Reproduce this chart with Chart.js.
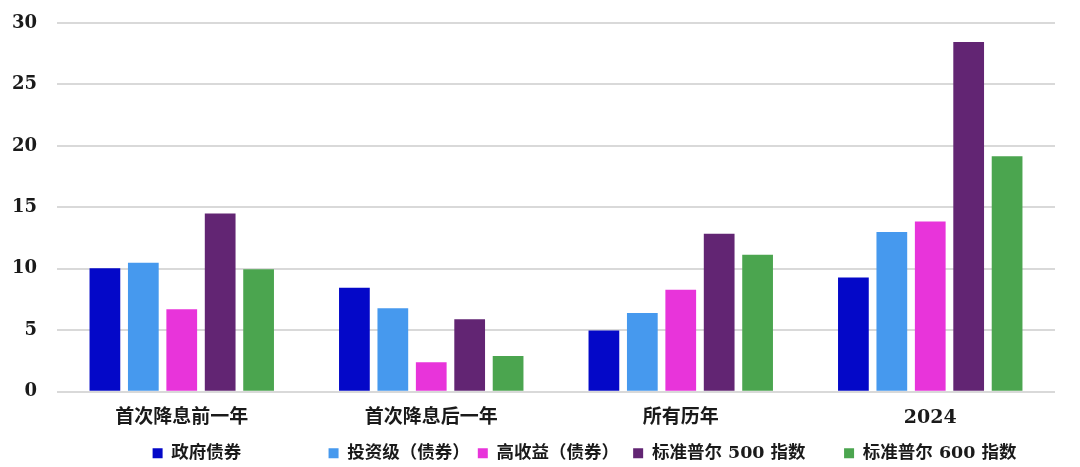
<!DOCTYPE html>
<html>
<head>
<meta charset="utf-8">
<script src="https://cdn.jsdelivr.net/npm/chart.js@4.4.1/dist/chart.umd.min.js"></script>
<style>
  html, body { margin: 0; padding: 0; background: #fff; }
  #wrap { width: 1080px; height: 467px; }
</style>
</head>
<body>
<div id="wrap"><canvas id="chart"></canvas></div>
<script>
const categories = ['首次降息前一年', '首次降息后一年', '所有历年', '2024'];
const seriesNames = ['政府债券', '投资级（债券）', '高收益（债券）', '标准普尔 500 指数', '标准普尔 600 指数'];
const govBonds = [10.05, 8.45, 4.97, 9.3];
const invGrade = [10.5, 6.8, 6.4, 13.0];
const highYield = [6.7, 2.4, 8.3, 13.85];
const sp500 = [14.5, 5.9, 12.85, 28.45];
const sp600 = [9.97, 2.9, 11.15, 19.15];
const yTicks = [0, 5, 10, 15, 20, 25, 30];

const colors = ['#0408C8', '#4699EE', '#E834DA', '#622573', '#4BA54F'];
const values = [govBonds, invGrade, highYield, sp500, sp600];
// extra spacing after each legend entry (the original legend is not evenly spaced)
const legendGaps = [13, 0, 1, 5, 5];

Chart.defaults.color = '#1a1a1a';
Chart.defaults.font.family = '"DejaVu Serif", "Noto Sans CJK SC", serif';
Chart.defaults.font.weight = 'bold';

new Chart(document.getElementById('chart'), {
  type: 'bar',
  data: {
    labels: categories,
    datasets: seriesNames.map((name, i) => ({
      label: name,
      data: values[i],
      backgroundColor: colors[i],
      categoryPercentage: 0.77,
      barPercentage: 0.8
    }))
  },
  options: {
    responsive: true,
    maintainAspectRatio: false,
    animation: false,
    layout: { padding: { left: 12, right: 25, top: 23, bottom: -5 } },
    plugins: {
      tooltip: { enabled: false },
      legend: {
        position: 'bottom',
        align: 'end',
        labels: {
          boxWidth: 10,
          boxHeight: 10,
          padding: 8,
          font: { size: 17.5, weight: 'bold' },
          generateLabels: chart => Chart.defaults.plugins.legend.labels.generateLabels(chart)
            .map((item, i) => ({ ...item, text: item.text + ' '.repeat(legendGaps[i]) }))
        }
      }
    },
    scales: {
      x: {
        grid: { display: false },
        border: { display: false },
        ticks: { font: { size: 19, weight: 'bold' }, padding: 7 }
      },
      y: {
        min: 0,
        max: 30,
        afterBuildTicks: axis => { axis.ticks = yTicks.map(v => ({ value: v })); },
        afterFit: axis => {
          axis.width = 45;
          axis.paddingTop = 0;
          axis.paddingBottom = 0;
        },
        grid: { color: '#d9d9d9', lineWidth: 2, drawTicks: false },
        border: { display: false },
        ticks: { font: { size: 18, weight: 'bold' }, padding: 20 }
      }
    }
  }
});
</script>
</body>
</html>
